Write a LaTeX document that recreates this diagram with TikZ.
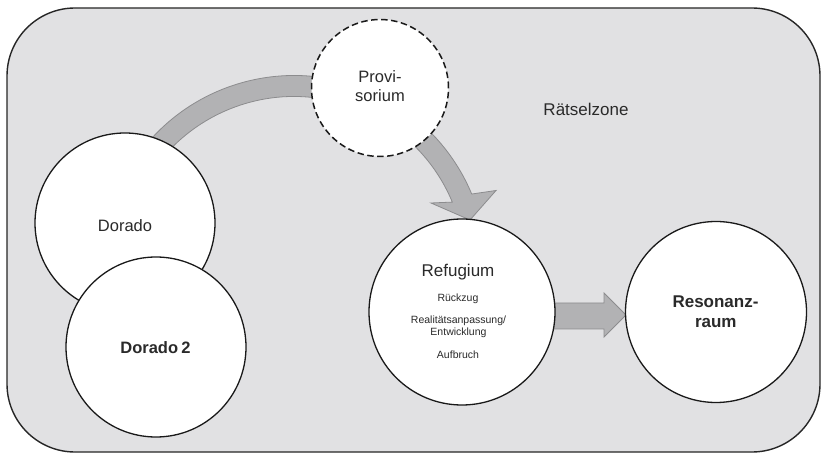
\documentclass[tikz,border=0pt]{standalone}
\usepackage{fontspec}
\setmainfont{Liberation Sans}
\usetikzlibrary{calc}
\definecolor{bggray}{HTML}{E1E1E3}
\definecolor{arrowfill}{HTML}{B2B2B4}
\definecolor{arrowline}{HTML}{8C8C8E}
\definecolor{txt}{HTML}{2A2A2A}
\tikzset{
  zone/.style={draw=black!85, line width=1.4pt, fill=bggray, rounded corners=68pt},
  blob/.style={circle, draw=black!90, line width=1.3pt, fill=white, inner sep=0pt},
  blockarrow/.style={fill=arrowfill, draw=arrowline, line width=0.8pt, line join=miter},
  lbl/.style={anchor=base, text=txt, inner sep=0pt},
  big/.style={font=\fontsize{16.5}{19}\selectfont},
  small/.style={font=\fontsize{10.5}{12}\selectfont},
}
\begin{document}
\begin{tikzpicture}[x=1pt,y=1pt]
\useasboundingbox (0,0) rectangle (822,-454);
\draw[zone] (7,-8) rectangle (820,-452);
% curved block arrow
\coordinate (arcC) at (294,-268);
\draw[blockarrow] ($(arcC)+(150:192.5pt)$) arc[start angle=150, end angle=22.6, radius=192.5pt]
  -- (496,-190.5) -- (470,-220) -- (431,-203)
  -- ($(arcC)+(22.6:171.5pt)$) arc[start angle=22.6, end angle=150, radius=171.5pt] -- cycle;
% straight block arrow
\coordinate (sa) at (540,-316);
\coordinate (tip) at (626,-315);
\draw[blockarrow] (540,-303) -- (604,-303) -- (604,-293) -- (tip) -- (604,-337) -- (604,-329) -- (540,-329) -- cycle;
% circles
\node[blob, minimum size=180pt] (dorado) at (125,-223) {};
\node[blob, minimum size=180pt] (dorado2) at (156,-347) {};
\node[blob, minimum size=137pt, line width=1.5pt, dash pattern=on 6.5pt off 3.5pt] (prov) at (380,-88) {};
\node[blob, minimum size=186pt] (refug) at (462,-312) {};
\node[blob, minimum size=181pt] (reson) at (716,-312) {};
% texts
\node[lbl, big] (tDorado) at (125,-232) {Dorado};
\node[lbl, big, font=\fontsize{16.5}{19}\selectfont\bfseries] (tDorado2) at (155.5,-353) {Dorado\hspace{0.2em}2};
\node[lbl, big] (tProv1) at (380,-83) {Provi-};
\node[lbl, big] (tProv2) at (380,-102) {sorium};
\node[lbl, font=\fontsize{17}{20}\selectfont] (tZone) at (586,-116) {Rätselzone};
\node[lbl, font=\fontsize{17}{20}\selectfont] (tRef) at (458,-277) {Refugium};
\node[lbl, small] (tR1) at (458,-301.7) {Rückzug};
\node[lbl, small] (tR2) at (458.5,-323.5) {Realitätsanpassung/};
\node[lbl, small] (tR3) at (458.5,-335.5) {Entwicklung};
\node[lbl, small] (tR4) at (458,-359) {Aufbruch};
\node[lbl, font=\fontsize{17}{20}\selectfont\bfseries] (tRes1) at (715.5,-308) {Resonanz-};
\node[lbl, font=\fontsize{17}{20}\selectfont\bfseries] (tRes2) at (715.8,-327) {raum};
\end{tikzpicture}
\end{document}
